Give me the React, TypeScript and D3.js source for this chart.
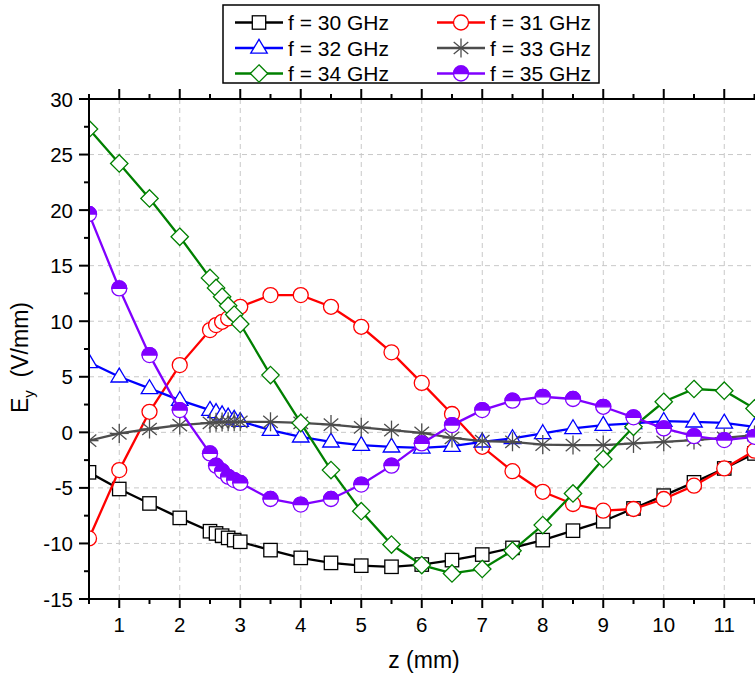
import React from "react";
import * as d3 from "d3";

const zValues = [0.5, 1, 1.5, 2, 2.5, 2.6, 2.7, 2.8, 2.9, 3, 3.5, 4, 4.5, 5, 5.5, 6, 6.5, 7, 7.5, 8, 8.5, 9, 9.5, 10, 10.5, 11, 11.5];

const f30 = [-3.6, -5.1, -6.4, -7.7, -8.9, -9.1, -9.3, -9.5, -9.7, -9.85, -10.6, -11.3, -11.75, -12.0, -12.1, -11.9, -11.5, -11.0, -10.4, -9.7, -8.85, -8.0, -6.85, -5.7, -4.5, -3.25, -1.9];
const f31 = [-9.55, -3.4, 1.85, 6.05, 9.2, 9.65, 9.95, 10.25, 10.7, 11.3, 12.35, 12.35, 11.3, 9.5, 7.2, 4.45, 1.65, -1.3, -3.5, -5.35, -6.45, -7.05, -6.9, -6.0, -4.8, -3.25, -1.65];
const f32 = [6.3, 5.0, 3.95, 2.9, 2.0, 1.8, 1.6, 1.4, 1.2, 1.0, 0.2, -0.4, -0.85, -1.15, -1.3, -1.4, -1.25, -0.85, -0.55, -0.1, 0.35, 0.65, 0.8, 1.0, 0.95, 0.85, 0.5];
const f33 = [-0.75, -0.1, 0.3, 0.65, 0.85, 0.9, 0.92, 0.95, 0.95, 0.95, 0.95, 0.85, 0.7, 0.45, 0.2, -0.05, -0.5, -0.8, -0.85, -1.1, -1.15, -1.15, -1.0, -0.85, -0.7, -0.5, -0.25];
const f34 = [27.3, 24.2, 21.05, 17.6, 13.9, 13.0, 12.2, 11.4, 10.6, 9.75, 5.15, 0.85, -3.4, -7.1, -10.1, -11.95, -12.7, -12.3, -10.65, -8.35, -5.5, -2.4, 0.5, 2.75, 3.9, 3.75, 2.15];
const f35 = [19.65, 12.95, 6.95, 2.0, -1.9, -3.0, -3.5, -4.0, -4.3, -4.55, -6.0, -6.5, -6.0, -4.7, -3.0, -1.0, 0.65, 2.0, 2.85, 3.2, 3.0, 2.3, 1.35, 0.35, -0.35, -0.7, -0.4];

const seriesLabels = ["f = 30 GHz", "f = 31 GHz", "f = 32 GHz", "f = 33 GHz", "f = 34 GHz", "f = 35 GHz"];
const seriesValues = [f30, f31, f32, f33, f34, f35];
const seriesColors = ["#000000", "#FF0000", "#0000FF", "#4D4D4D", "#008000", "#8000FF"];
const seriesMarkers = ["square", "circle", "triangle", "star", "diamond", "halfcircle"];

const xMajorTicks = [1, 2, 3, 4, 5, 6, 7, 8, 9, 10, 11];
const yMajorTicks = [-15, -10, -5, 0, 5, 10, 15, 20, 25, 30];

const W = 755;
const H = 675;
const PL = 89;
const PT = 99;
const PB = 599;
const font = "'Liberation Sans', Arial, Helvetica, sans-serif";

function Marker({ type, cx, cy, color }: { type: string; cx: number; cy: number; color: string }) {
  const sw = 1.3;
  if (type === "square") {
    const s = 6.7;
    return <rect x={cx - s} y={cy - s} width={2 * s} height={2 * s} fill="#fff" stroke={color} strokeWidth={sw} />;
  }
  if (type === "circle") {
    return <circle cx={cx} cy={cy} r={7.5} fill="#fff" stroke={color} strokeWidth={sw} />;
  }
  if (type === "triangle") {
    const r = 8.7;
    const pts = [
      [cx, cy - r],
      [cx + r * 0.95, cy + r * 0.6],
      [cx - r * 0.95, cy + r * 0.6],
    ];
    return <polygon points={pts.map((p) => p.join(",")).join(" ")} fill="#fff" stroke={color} strokeWidth={sw} />;
  }
  if (type === "diamond") {
    const r = 8.7;
    return (
      <polygon
        points={`${cx},${cy - r} ${cx + r},${cy} ${cx},${cy + r} ${cx - r},${cy}`}
        fill="#fff"
        stroke={color}
        strokeWidth={sw}
      />
    );
  }
  if (type === "star") {
    const r = 9.5;
    const angles = [90, 40, 140];
    return (
      <g stroke={color} strokeWidth={1.3}>
        {angles.map((a) => {
          const rad = (a * Math.PI) / 180;
          const dx = r * Math.cos(rad);
          const dy = r * Math.sin(rad);
          return <line key={a} x1={cx - dx} y1={cy - dy} x2={cx + dx} y2={cy + dy} />;
        })}
        <line x1={cx - r} y1={cy} x2={cx + r} y2={cy} />
      </g>
    );
  }
  if (type === "halfcircle") {
    const r = 7.5;
    return (
      <g>
        <circle cx={cx} cy={cy} r={r} fill="#fff" stroke={color} strokeWidth={sw} />
        <path d={`M ${cx - r} ${cy} A ${r} ${r} 0 0 1 ${cx + r} ${cy} Z`} fill={color} stroke={color} strokeWidth={sw} />
      </g>
    );
  }
  return null;
}

export default function App() {
  const x = d3.scaleLinear().domain([0.5, 12]).range([PL, PL + 11.5 * 60.5]);
  const y = d3.scaleLinear().domain([-15, 30]).range([PB, PT]);
  const xRight = x(12);

  const line = d3
    .line<[number, number]>()
    .x((d) => x(d[0]))
    .y((d) => y(d[1]));

  const xMinor = d3.range(0.5, 12.01, 0.5).filter((v) => !xMajorTicks.includes(v));
  const yMinor = d3.range(-12.5, 30, 5);

  const legendRows = [0, 1, 2];
  const legendRowY = [22.5, 48, 73.5];

  return (
    <svg
      width={W}
      height={H}
      style={{ position: "absolute", left: 0, top: 0, background: "#fff" }}
      fontFamily={font}
    >
      <defs>
        <clipPath id="plotClip">
          <rect x={PL} y={PT} width={xRight - PL} height={PB - PT} />
        </clipPath>
      </defs>
      <rect x={0} y={0} width={W} height={H} fill="#fff" />

      {/* grid */}
      <g stroke="#C8C8C8" strokeWidth={1} strokeDasharray="5,4">
        {xMajorTicks.map((t) => (
          <line key={"gx" + t} x1={x(t)} x2={x(t)} y1={PT} y2={PB} />
        ))}
        {yMajorTicks
          .filter((t) => t > -15 && t < 30)
          .map((t) => (
            <line key={"gy" + t} x1={PL} x2={xRight} y1={y(t)} y2={y(t)} />
          ))}
      </g>

      {/* series */}
      <g clipPath="url(#plotClip)">
        {seriesValues.map((vals, i) => {
          const pts: [number, number][] = zValues.map((z, j) => [z, vals[j]]);
          return (
            <g key={"s" + i}>
              <path d={line(pts) || ""} fill="none" stroke={seriesColors[i]} strokeWidth={2.3} />
              {pts.map((p, j) => (
                <Marker key={j} type={seriesMarkers[i]} cx={x(p[0])} cy={y(p[1])} color={seriesColors[i]} />
              ))}
            </g>
          );
        })}
      </g>

      {/* axes */}
      <g stroke="#000" strokeWidth={2}>
        <line x1={PL} x2={PL} y1={PT} y2={PB + 1} />
        <line x1={PL - 1} x2={xRight} y1={PB} y2={PB} />
        <line x1={PL - 1} x2={xRight} y1={PT} y2={PT} />
        {xMajorTicks.map((t) => (
          <g key={"xt" + t}>
            <line x1={x(t)} x2={x(t)} y1={PB} y2={PB + 9} />
            <line x1={x(t)} x2={x(t)} y1={PT} y2={PT - 10} />
          </g>
        ))}
        {xMinor.map((t) => (
          <g key={"xm" + t}>
            <line x1={x(t)} x2={x(t)} y1={PB} y2={PB + 5} />
            <line x1={x(t)} x2={x(t)} y1={PT} y2={PT - 5} />
          </g>
        ))}
        {yMajorTicks.map((t) => (
          <line key={"yt" + t} x1={PL} x2={PL - 10} y1={y(t)} y2={y(t)} />
        ))}
        {yMinor.map((t) => (
          <line key={"ym" + t} x1={PL} x2={PL - 5} y1={y(t)} y2={y(t)} />
        ))}
      </g>

      {/* tick labels */}
      <g fontSize={20.5} fill="#000">
        {xMajorTicks.map((t) => (
          <text key={"xl" + t} x={x(t)} y={632} textAnchor="middle">
            {t}
          </text>
        ))}
        {yMajorTicks.map((t) => (
          <text key={"yl" + t} x={73} y={y(t) + 7.5} textAnchor="end">
            {t}
          </text>
        ))}
      </g>

      {/* axis titles */}
      <text x={424} y={668} fontSize={23} fill="#000" textAnchor="middle">
        z (mm)
      </text>
      <text transform="translate(28,413) rotate(-90)" fontSize={23} fill="#000" style={{ whiteSpace: "pre" }}>
        E
        <tspan fontSize={15} dy={6}>
          y
        </tspan>
        <tspan dy={-6}>{"  (V/mm)"}</tspan>
      </text>

      {/* legend */}
      <rect x={223} y={5} width={376} height={78} fill="#fff" stroke="#000" strokeWidth={1.5} />
      {seriesLabels.map((lab, i) => {
        const col = i % 2;
        const row = legendRows[Math.floor(i / 2)];
        const cy = legendRowY[row];
        const lx0 = col === 0 ? 235 : 437;
        const lx1 = lx0 + 48;
        const mx = (lx0 + lx1) / 2;
        return (
          <g key={"lg" + i}>
            <line x1={lx0} x2={lx1} y1={cy} y2={cy} stroke={seriesColors[i]} strokeWidth={2.3} />
            <Marker type={seriesMarkers[i]} cx={mx} cy={cy} color={seriesColors[i]} />
            <text x={lx1 + 5} y={cy + 7.5} fontSize={21} fill="#000">
              {lab}
            </text>
          </g>
        );
      })}
    </svg>
  );
}
